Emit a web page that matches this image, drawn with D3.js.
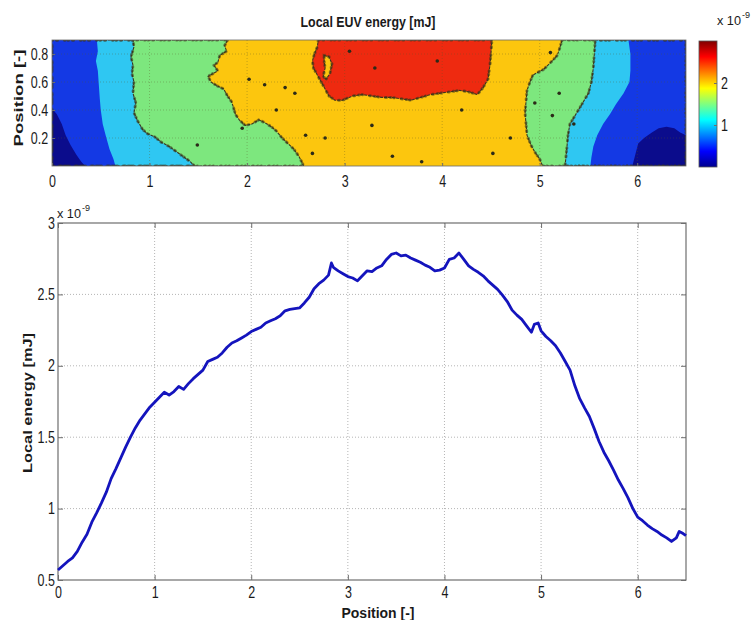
<!DOCTYPE html>
<html>
<head>
<meta charset="utf-8">
<script src="https://cdnjs.cloudflare.com/ajax/libs/d3/7.8.5/d3.min.js"></script>
<style>
  body { margin: 0; background: #fff; }
  svg text { font-family: "Liberation Sans", Arial, sans-serif; fill: #1a1a1a; }
</style>
</head>
<body>
<div id="chart"></div>
<script>
(function() {
  var svg, hx, hy, cy, px, py, band, lineGen, grad, i;

  // ---- line data (energy x 1e-9 mJ vs position) ----
  var positions = [0.00, 0.05, 0.10, 0.15, 0.20, 0.25, 0.30, 0.35, 0.40, 0.45, 0.50, 0.55, 0.60, 0.65, 0.70, 0.75, 0.80, 0.85, 0.90, 0.95,
    1.00, 1.05, 1.10, 1.15, 1.20, 1.25, 1.30, 1.35, 1.40, 1.45, 1.50, 1.55, 1.60, 1.65, 1.70, 1.75, 1.80, 1.85, 1.90, 1.95,
    2.00, 2.05, 2.10, 2.15, 2.20, 2.25, 2.30, 2.35, 2.40, 2.45, 2.50, 2.55, 2.60, 2.65, 2.70, 2.75, 2.80, 2.83, 2.85, 2.90, 2.95,
    3.00, 3.05, 3.10, 3.15, 3.20, 3.25, 3.30, 3.35, 3.40, 3.45, 3.50, 3.55, 3.60, 3.65, 3.70, 3.75, 3.80, 3.85, 3.90, 3.95,
    4.00, 4.05, 4.10, 4.15, 4.20, 4.25, 4.30, 4.35, 4.40, 4.45, 4.50, 4.55, 4.60, 4.65, 4.70, 4.75, 4.80, 4.85, 4.90, 4.93, 4.97,
    5.00, 5.05, 5.10, 5.15, 5.20, 5.25, 5.30, 5.35, 5.40, 5.45, 5.50, 5.55, 5.60, 5.65, 5.70, 5.75, 5.80, 5.85, 5.90, 5.95,
    6.00, 6.05, 6.10, 6.15, 6.20, 6.25, 6.30, 6.35, 6.40, 6.43, 6.47, 6.50];
  var energy = [0.57, 0.60, 0.63, 0.655, 0.70, 0.765, 0.82, 0.905, 0.97, 1.04, 1.115, 1.21, 1.28, 1.355, 1.43, 1.50, 1.565, 1.62, 1.665, 1.71,
    1.745, 1.78, 1.815, 1.795, 1.82, 1.855, 1.835, 1.875, 1.91, 1.94, 1.97, 2.03, 2.045, 2.06, 2.09, 2.13, 2.16, 2.175, 2.195, 2.215,
    2.24, 2.255, 2.27, 2.30, 2.315, 2.33, 2.35, 2.385, 2.395, 2.40, 2.405, 2.44, 2.48, 2.54, 2.575, 2.60, 2.635, 2.72, 2.69, 2.665, 2.645,
    2.625, 2.615, 2.595, 2.63, 2.665, 2.66, 2.685, 2.70, 2.745, 2.78, 2.79, 2.77, 2.775, 2.755, 2.74, 2.725, 2.705, 2.69, 2.665, 2.67,
    2.685, 2.745, 2.755, 2.79, 2.745, 2.70, 2.675, 2.655, 2.63, 2.595, 2.565, 2.535, 2.495, 2.45, 2.39, 2.355, 2.325, 2.28, 2.235, 2.29, 2.30,
    2.245, 2.205, 2.175, 2.14, 2.09, 2.03, 1.97, 1.86, 1.77, 1.705, 1.645, 1.56, 1.47, 1.395, 1.335, 1.27, 1.20, 1.14, 1.075, 1.00,
    0.94, 0.915, 0.885, 0.86, 0.84, 0.815, 0.795, 0.77, 0.795, 0.84, 0.825, 0.81];

  var xTicks = [0, 1, 2, 3, 4, 5, 6];
  var energyTicks = [0.5, 1, 1.5, 2, 2.5, 3];
  var heightTicks = [0.2, 0.4, 0.6, 0.8];
  var colorTicks = [1, 2];

  // ---- heat map bands: boundaries read as [position, height] ----
  var levelColors = ["#0b0c8c", "#1439e4", "#2fc7f2", "#7de77e", "#fcc60e", "#ee2a10"];
  var leftGreenEdge = [[1.80, 0.9], [1.77, 0.86], [1.79, 0.82], [1.72, 0.79], [1.70, 0.74], [1.66, 0.72], [1.70, 0.68], [1.60, 0.64], [1.63, 0.60],
    [1.70, 0.57], [1.76, 0.55], [1.80, 0.50], [1.84, 0.46], [1.86, 0.42], [1.88, 0.37], [1.92, 0.33], [1.98, 0.29], [2.05, 0.30], [2.12, 0.33],
    [2.18, 0.31], [2.25, 0.28], [2.30, 0.25], [2.36, 0.20], [2.42, 0.16], [2.48, 0.12], [2.53, 0.07], [2.56, 0.03], [2.58, 0.0]];
  var leftCyanEdge = [[0.83, 0.9], [0.84, 0.85], [0.81, 0.78], [0.83, 0.72], [0.82, 0.66], [0.84, 0.60], [0.83, 0.52], [0.86, 0.45], [0.84, 0.38],
    [0.88, 0.32], [0.93, 0.26], [0.98, 0.23], [1.05, 0.21], [1.12, 0.17], [1.20, 0.14], [1.28, 0.10], [1.36, 0.06], [1.42, 0.03], [1.46, 0.0]];
  var leftBlueEdge = [[0.46, 0.9], [0.47, 0.82], [0.45, 0.75], [0.47, 0.68], [0.48, 0.58], [0.49, 0.48], [0.50, 0.40], [0.52, 0.30], [0.55, 0.22],
    [0.59, 0.12], [0.63, 0.05], [0.65, 0.0]];
  var leftNavyEdge = [[0, 0.41], [0.05, 0.37], [0.10, 0.30], [0.14, 0.22], [0.19, 0.15], [0.25, 0.08], [0.30, 0.03], [0.34, 0.0]];
  var rightGreenEdge = [[5.23, 0.9], [5.20, 0.83], [5.18, 0.79], [5.10, 0.73], [5.04, 0.69], [4.93, 0.65], [4.90, 0.60], [4.87, 0.54], [4.86, 0.46],
    [4.85, 0.38], [4.86, 0.30], [4.87, 0.22], [4.91, 0.15], [4.95, 0.10], [5.00, 0.05], [5.03, 0.0]];
  var rightCyanEdge = [[5.57, 0.9], [5.56, 0.80], [5.55, 0.70], [5.53, 0.60], [5.50, 0.52], [5.44, 0.45], [5.38, 0.38], [5.31, 0.30], [5.29, 0.22],
    [5.28, 0.14], [5.27, 0.07], [5.26, 0.0]];
  var rightBlueEdge = [[5.91, 0.9], [5.93, 0.80], [5.93, 0.68], [5.92, 0.60], [5.86, 0.52], [5.78, 0.44], [5.72, 0.37], [5.65, 0.30], [5.59, 0.22],
    [5.55, 0.14], [5.53, 0.06], [5.52, 0.0]];
  var rightNavyEdge = [[6.5, 0.22], [6.44, 0.24], [6.38, 0.27], [6.30, 0.28], [6.22, 0.27], [6.15, 0.24], [6.07, 0.20], [6.01, 0.16], [5.98, 0.08], [5.95, 0.0]];
  var redZone = [[2.73, 0.9], [4.51, 0.9], [4.50, 0.80], [4.49, 0.72], [4.47, 0.62], [4.42, 0.56], [4.36, 0.51], [4.27, 0.53], [4.18, 0.54],
    [4.08, 0.53], [3.98, 0.52], [3.88, 0.51], [3.78, 0.49], [3.68, 0.47], [3.58, 0.48], [3.48, 0.49], [3.38, 0.49], [3.28, 0.50], [3.18, 0.51],
    [3.08, 0.50], [2.98, 0.47], [2.90, 0.47], [2.84, 0.50], [2.80, 0.55], [2.76, 0.60], [2.72, 0.65], [2.68, 0.70], [2.67, 0.75], [2.69, 0.80], [2.72, 0.85]];
  var redHole = [[2.79, 0.79], [2.84, 0.78], [2.87, 0.73], [2.85, 0.66], [2.81, 0.62], [2.78, 0.64], [2.80, 0.70], [2.79, 0.75]];
  var speckles = [[2.18, 0.58], [2.39, 0.56], [2.49, 0.52], [3.28, 0.29], [2.80, 0.20], [3.49, 0.07], [3.79, 0.03], [2.67, 0.09], [5.13, 0.36],
    [5.11, 0.81], [4.52, 0.09], [3.31, 0.70], [1.95, 0.27], [1.49, 0.15], [2.02, 0.62], [2.30, 0.40], [2.60, 0.22], [5.20, 0.52], [5.35, 0.30],
    [4.95, 0.45], [3.05, 0.82], [4.20, 0.40], [4.70, 0.20], [3.95, 0.75]];

  svg = d3.select("#chart").append("svg").attr("width", 752).attr("height", 620);

  // ---- top panel: heat map ----
  hx = d3.scaleLinear().domain([0, 6.5]).range([52, 686]);
  hy = d3.scaleLinear().domain([0, 0.9]).range([166, 40]);
  band = d3.line().x(function(d) { return hx(d[0]); }).y(function(d) { return hy(d[1]); });

  var regions = [
    { pts: [[0, 0.9], [6.5, 0.9], [6.5, 0], [0, 0]], c: levelColors[4] },
    { pts: [[0, 0.9]].concat(leftGreenEdge, [[0, 0]]), c: levelColors[3], edge: true },
    { pts: [[0, 0.9]].concat(leftCyanEdge, [[0, 0]]), c: levelColors[2], edge: true },
    { pts: [[0, 0.9]].concat(leftBlueEdge, [[0, 0]]), c: levelColors[1] },
    { pts: leftNavyEdge.concat([[0, 0]]), c: levelColors[0] },
    { pts: [[6.5, 0.9]].concat(rightGreenEdge, [[6.5, 0]]), c: levelColors[3], edge: true },
    { pts: [[6.5, 0.9]].concat(rightCyanEdge, [[6.5, 0]]), c: levelColors[2], edge: true },
    { pts: [[6.5, 0.9]].concat(rightBlueEdge, [[6.5, 0]]), c: levelColors[1] },
    { pts: rightNavyEdge.concat([[6.5, 0]]), c: levelColors[0] },
    { pts: redZone, c: levelColors[5], edge: true },
    { pts: redHole, c: levelColors[4], edge: true }
  ];

  svg.append("clipPath").attr("id", "hclip").append("rect")
    .attr("x", hx(0)).attr("y", hy(0.9)).attr("width", hx(6.5) - hx(0)).attr("height", hy(0) - hy(0.9));

  var heat = svg.append("g").attr("clip-path", "url(#hclip)");
  heat.selectAll("path.band").data(regions).enter().append("path")
    .attr("class", "band")
    .attr("d", function(d) { return band(d.pts) + "Z"; })
    .style("fill", function(d) { return d.c; })
    .style("stroke", function(d) { return d.edge ? "#3b3520" : "none"; })
    .style("stroke-width", 1.1)
    .style("stroke-dasharray", "3,1");

  // ragged speckle along the contour edges
  heat.selectAll("path.rag").data(regions.filter(function(d) { return d.edge; })).enter().append("path")
    .attr("class", "rag")
    .attr("d", function(d) { return band(d.pts) + "Z"; })
    .style("fill", "none")
    .style("stroke", "#3a3418")
    .style("stroke-opacity", 0.55)
    .style("stroke-width", 3)
    .style("stroke-linecap", "round")
    .style("stroke-dasharray", "0.5,4,1,7,0.5,3");

  heat.selectAll("circle.speck").data(speckles).enter().append("circle")
    .attr("cx", function(d) { return hx(d[0]); })
    .attr("cy", function(d) { return hy(d[1]); })
    .attr("r", 1.8)
    .style("fill", "#2b2a18");

  // faint dotted grid on the map
  heat.selectAll("line.vg").data(xTicks.slice(1)).enter().append("line")
    .attr("x1", function(d) { return hx(d); }).attr("x2", function(d) { return hx(d); })
    .attr("y1", hy(0.9)).attr("y2", hy(0))
    .style("stroke", "rgba(90,90,40,0.35)").style("stroke-dasharray", "1,2");
  heat.selectAll("line.hg").data(heightTicks).enter().append("line")
    .attr("y1", function(d) { return hy(d); }).attr("y2", function(d) { return hy(d); })
    .attr("x1", hx(0)).attr("x2", hx(6.5))
    .style("stroke", "rgba(90,90,40,0.35)").style("stroke-dasharray", "1,2");

  svg.append("rect").attr("x", hx(0)).attr("y", hy(0.9)).attr("width", hx(6.5) - hx(0)).attr("height", hy(0) - hy(0.9))
    .style("fill", "none").style("stroke", "#6a6a6a").style("stroke-width", 0.8);

  var hxAxis = svg.append("g").attr("transform", "translate(0," + hy(0) + ")")
    .call(d3.axisBottom(hx).tickValues(xTicks).tickSizeInner(-3).tickSizeOuter(0).tickPadding(10).tickFormat(d3.format("d")));
  var hyAxis = svg.append("g").attr("transform", "translate(" + hx(0) + ",0)")
    .call(d3.axisLeft(hy).tickValues(heightTicks).tickSizeInner(-3).tickSizeOuter(0).tickPadding(5).tickFormat(d3.format(".1f")));

  // ---- colour bar ----
  cy = d3.scaleLinear().domain([0, 3]).range([167, 41]);
  grad = svg.append("defs").append("linearGradient").attr("id", "jet")
    .attr("x1", 0).attr("y1", 1).attr("x2", 0).attr("y2", 0);
  var jetStops = [[0, "#00008f"], [0.125, "#0000ff"], [0.375, "#00ffff"], [0.625, "#ffff00"], [0.875, "#ff0000"], [1, "#800000"]];
  grad.selectAll("stop").data(jetStops).enter().append("stop")
    .attr("offset", function(d) { return d[0]; })
    .attr("stop-color", function(d) { return d[1]; });
  svg.append("rect").attr("x", 699).attr("y", cy(3)).attr("width", 18).attr("height", cy(0) - cy(3))
    .style("fill", "url(#jet)").style("stroke", "#555").style("stroke-width", 0.8);
  var cAxis = svg.append("g").attr("transform", "translate(717,0)")
    .call(d3.axisRight(cy).tickValues(colorTicks).tickSizeInner(-3).tickSizeOuter(0).tickPadding(5).tickFormat(d3.format("d")));

  // ---- bottom panel: line plot ----
  px = d3.scaleLinear().domain([0, 6.5]).range([58, 686]);
  py = d3.scaleLinear().domain([0.5, 3]).range([580, 223]);

  svg.selectAll("line.bvg").data(xTicks.slice(1)).enter().append("line")
    .attr("x1", function(d) { return px(d); }).attr("x2", function(d) { return px(d); })
    .attr("y1", py(3)).attr("y2", py(0.5))
    .style("stroke", "#b5b5b5").style("stroke-dasharray", "1,2");
  svg.selectAll("line.bhg").data(energyTicks.slice(1, 5)).enter().append("line")
    .attr("y1", function(d) { return py(d); }).attr("y2", function(d) { return py(d); })
    .attr("x1", px(0)).attr("x2", px(6.5))
    .style("stroke", "#b5b5b5").style("stroke-dasharray", "1,2");

  var pxAxis = svg.append("g").attr("transform", "translate(0," + py(0.5) + ")")
    .call(d3.axisBottom(px).tickValues(xTicks).tickSizeInner(-5).tickSizeOuter(0).tickPadding(7).tickFormat(d3.format("d")));
  var pyAxis = svg.append("g").attr("transform", "translate(" + px(0) + ",0)")
    .call(d3.axisLeft(py).tickValues(energyTicks).tickSizeInner(-5).tickSizeOuter(0).tickPadding(4).tickFormat(d3.format("~g")));
  svg.append("g").attr("transform", "translate(0," + py(3) + ")")
    .call(d3.axisTop(px).tickValues(xTicks).tickSizeInner(-5).tickSizeOuter(0).tickFormat(""));
  svg.append("g").attr("transform", "translate(" + px(6.5) + ",0)")
    .call(d3.axisRight(py).tickValues(energyTicks).tickSizeInner(-5).tickSizeOuter(0).tickFormat(""));

  svg.append("rect").attr("x", px(0)).attr("y", py(3)).attr("width", px(6.5) - px(0)).attr("height", py(0.5) - py(3))
    .style("fill", "none").style("stroke", "#6e6e6e").style("stroke-width", 1.2);

  lineGen = d3.line()
    .x(function(d, k) { return px(positions[k]); })
    .y(function(d) { return py(d); });
  svg.append("path").datum(energy).attr("d", lineGen)
    .style("fill", "none").style("stroke", "#1414bd").style("stroke-width", 2.8).style("stroke-linejoin", "round");

  // axis styling: narrow tick labels, grey domain
  [hxAxis, hyAxis, cAxis, pxAxis, pyAxis].forEach(function(a) {
    a.selectAll("text").attr("transform", "scale(0.78,1)").style("font-size", "16px").style("fill", "#1a1a1a");
  });
  svg.selectAll(".domain").remove();
  svg.selectAll(".tick line").style("stroke", "#6e6e6e");

  // ---- titles and labels ----
  svg.append("text").attr("x", 368).attr("y", 27).attr("text-anchor", "middle")
    .attr("textLength", 135).attr("lengthAdjust", "spacingAndGlyphs")
    .style("font-size", "14px").style("font-weight", "bold").text("Local EUV energy [mJ]");
  svg.append("text").attr("transform", "translate(19,98) rotate(-90)").attr("text-anchor", "middle").attr("dy", "0.35em")
    .attr("textLength", 97).attr("lengthAdjust", "spacingAndGlyphs")
    .style("font-size", "12px").style("font-weight", "bold").text("Position [-]");
  svg.append("text").attr("transform", "translate(28,403) rotate(-90)").attr("text-anchor", "middle").attr("dy", "0.35em")
    .attr("textLength", 140).attr("lengthAdjust", "spacingAndGlyphs")
    .style("font-size", "12px").style("font-weight", "bold").text("Local energy [mJ]");
  svg.append("text").attr("x", 378).attr("y", 618).attr("text-anchor", "middle")
    .attr("textLength", 73).attr("lengthAdjust", "spacingAndGlyphs")
    .style("font-size", "14px").style("font-weight", "bold").text("Position [-]");

  // exponent notes
  var expNotes = [[57, 218], [717, 25]];
  for (i = 0; i < expNotes.length; i++) {
    svg.append("text").attr("x", expNotes[i][0]).attr("y", expNotes[i][1])
      .attr("textLength", 24).attr("lengthAdjust", "spacingAndGlyphs")
      .style("font-size", "13px").text("x 10");
    svg.append("text").attr("x", expNotes[i][0] + 25).attr("y", expNotes[i][1] - 7)
      .style("font-size", "9px").text("-9");
  }
}).call(this);
</script>
</body>
</html>
